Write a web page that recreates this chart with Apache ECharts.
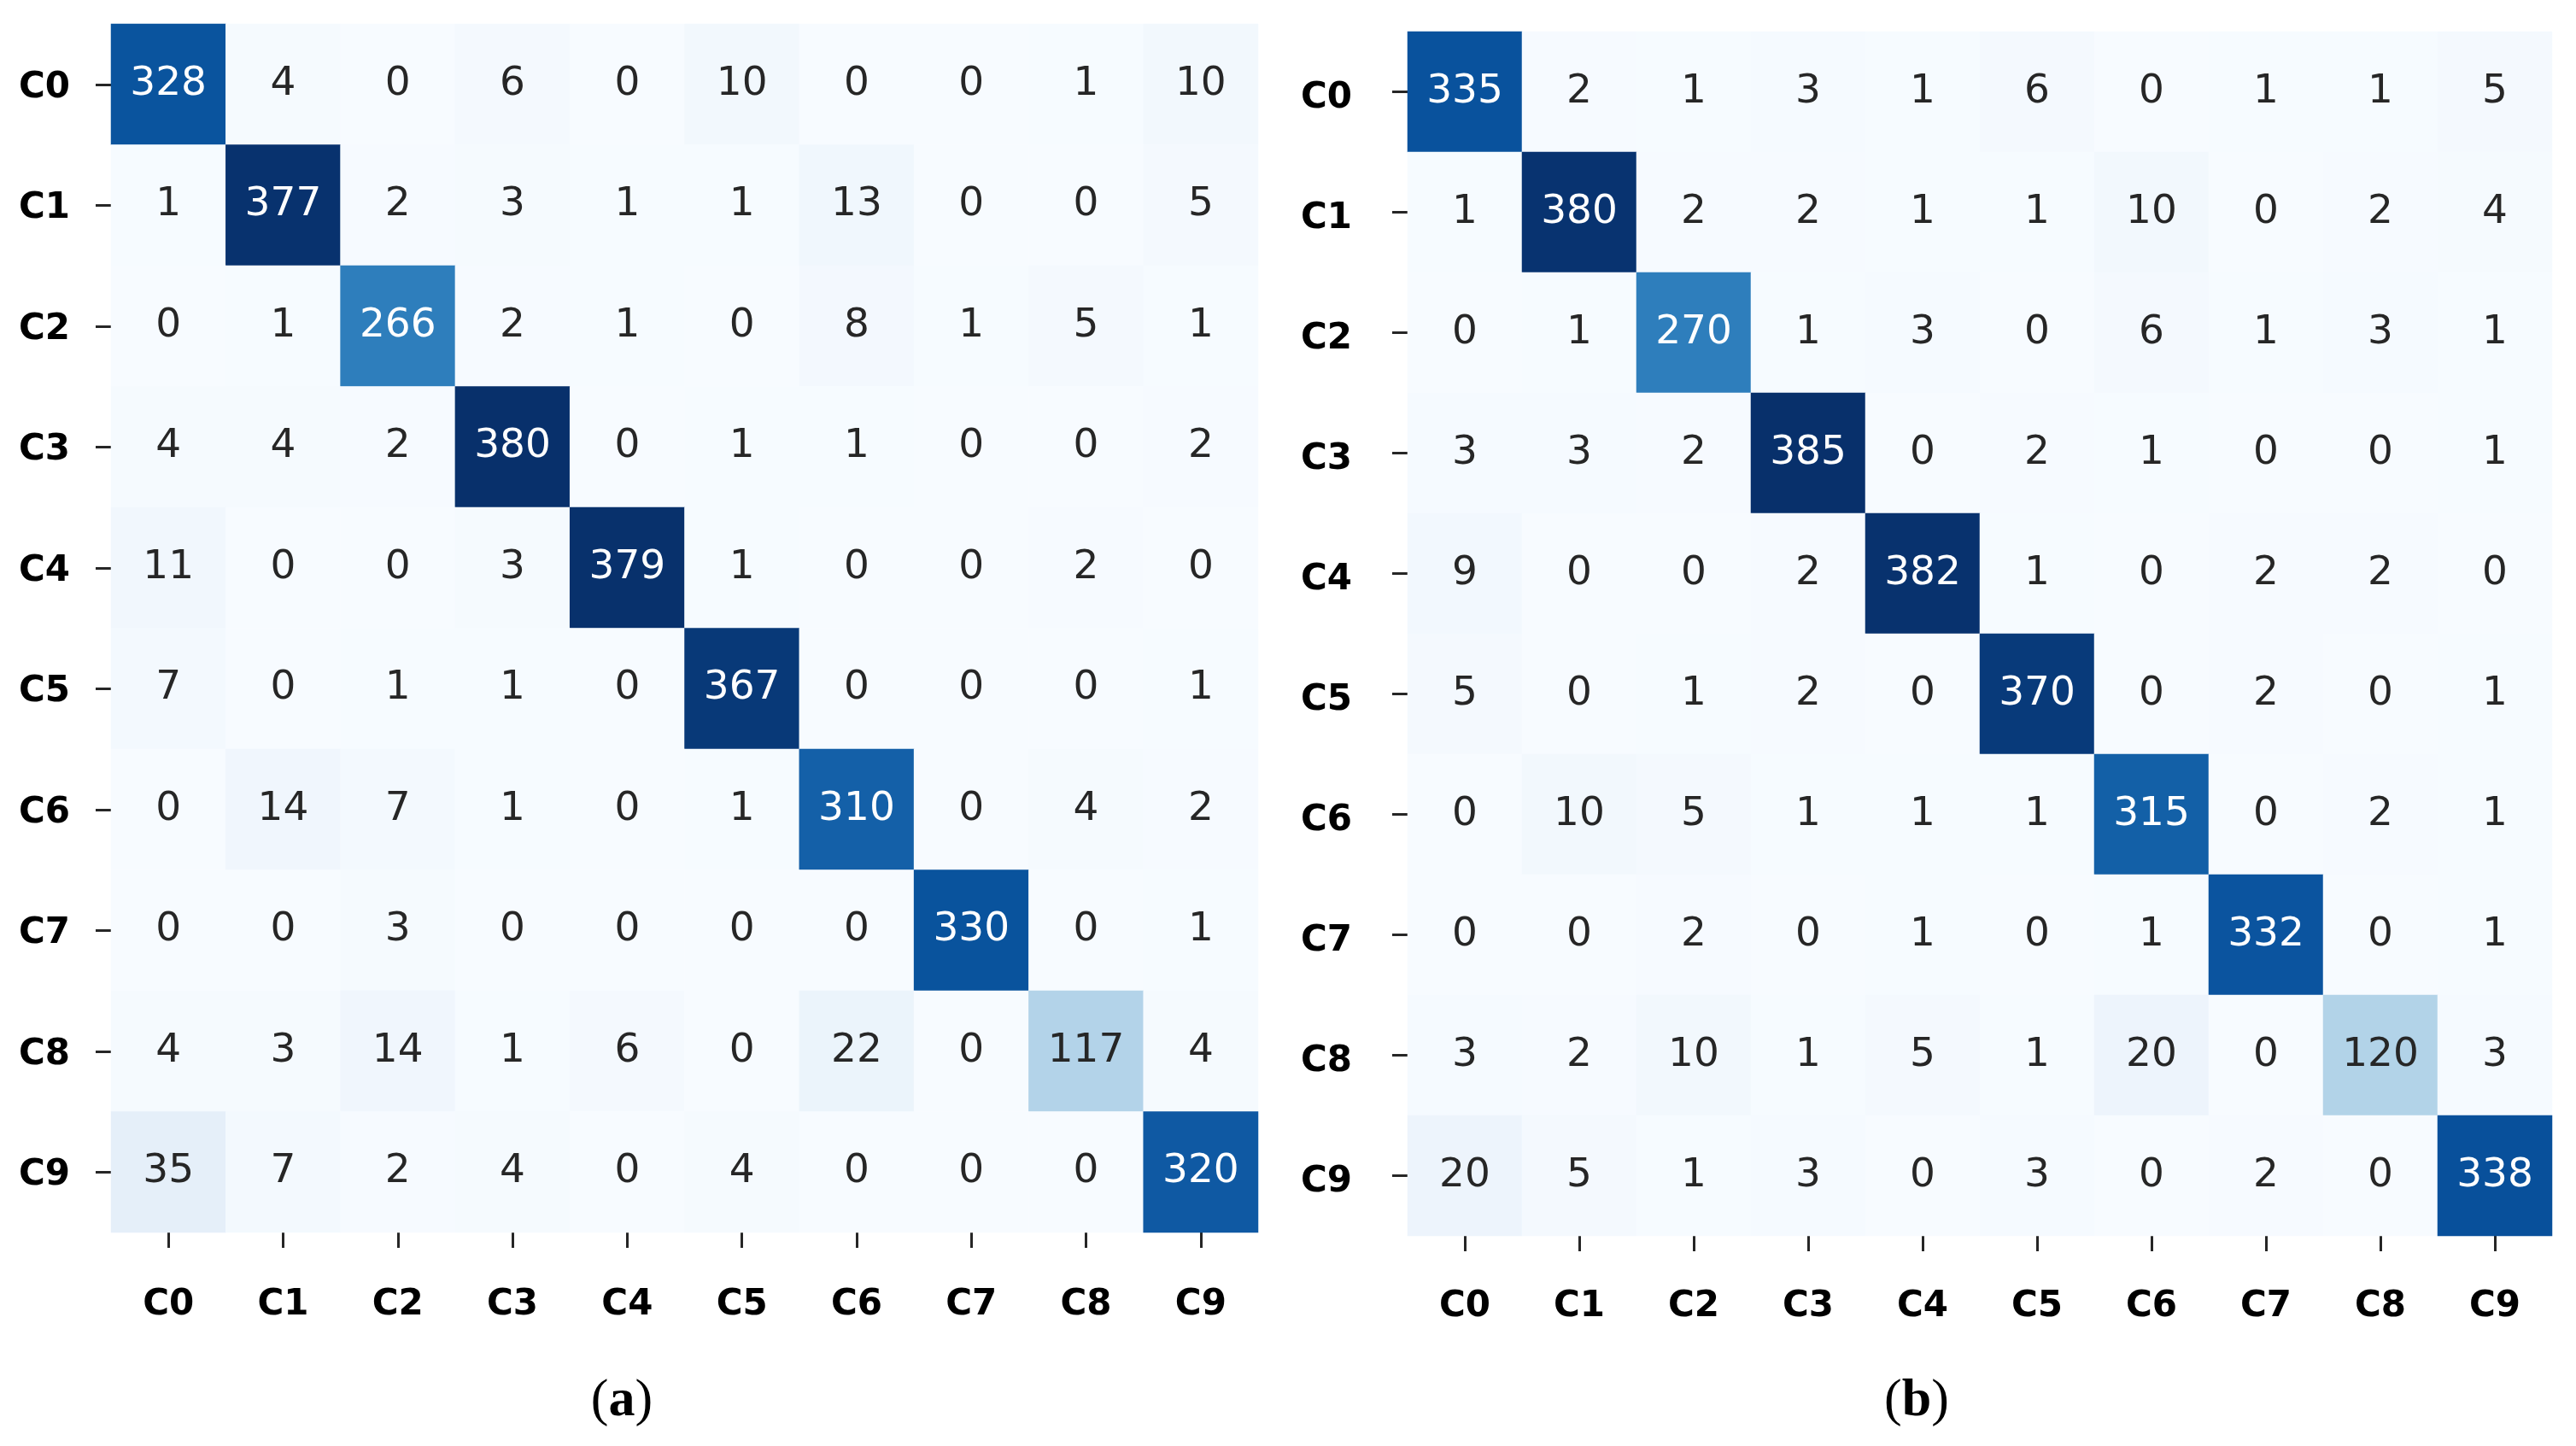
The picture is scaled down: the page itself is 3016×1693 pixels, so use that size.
<!DOCTYPE html>
<html>
<head>
<meta charset="utf-8">
<title>Confusion matrices</title>
<script src="https://cdn.jsdelivr.net/npm/echarts@6/dist/echarts.min.js"></script>
<style>
  html, body { margin: 0; padding: 0; background: #ffffff; }
  #chart { width: 3016px; height: 1693px; }
</style>
</head>
<body>
<div id="chart"></div>
<script>
// class labels (rows = true class, columns = predicted class)
const classes = ['C0', 'C1', 'C2', 'C3', 'C4', 'C5', 'C6', 'C7', 'C8', 'C9']

// (a) confusion matrix
const matrixA = [
  [328, 4, 0, 6, 0, 10, 0, 0, 1, 10],
  [1, 377, 2, 3, 1, 1, 13, 0, 0, 5],
  [0, 1, 266, 2, 1, 0, 8, 1, 5, 1],
  [4, 4, 2, 380, 0, 1, 1, 0, 0, 2],
  [11, 0, 0, 3, 379, 1, 0, 0, 2, 0],
  [7, 0, 1, 1, 0, 367, 0, 0, 0, 1],
  [0, 14, 7, 1, 0, 1, 310, 0, 4, 2],
  [0, 0, 3, 0, 0, 0, 0, 330, 0, 1],
  [4, 3, 14, 1, 6, 0, 22, 0, 117, 4],
  [35, 7, 2, 4, 0, 4, 0, 0, 0, 320]
]

// (b) confusion matrix
const matrixB = [
  [335, 2, 1, 3, 1, 6, 0, 1, 1, 5],
  [1, 380, 2, 2, 1, 1, 10, 0, 2, 4],
  [0, 1, 270, 1, 3, 0, 6, 1, 3, 1],
  [3, 3, 2, 385, 0, 2, 1, 0, 0, 1],
  [9, 0, 0, 2, 382, 1, 0, 2, 2, 0],
  [5, 0, 1, 2, 0, 370, 0, 2, 0, 1],
  [0, 10, 5, 1, 1, 1, 315, 0, 2, 1],
  [0, 0, 2, 0, 1, 0, 1, 332, 0, 1],
  [3, 2, 10, 1, 5, 1, 20, 0, 120, 3],
  [20, 5, 1, 3, 0, 3, 0, 2, 0, 338]
]

// matplotlib "Blues"
const blues = ['#f7fbff', '#deebf7', '#c6dbef', '#9ecae1', '#6baed6', '#4292c6', '#2171b5', '#08519c', '#08306b']

const toCells = (m) => {
  const max = Math.max(...m.flat())
  const cells = []
  m.forEach((row, i) => {
    row.forEach((v, j) => {
      cells.push({
        value: [j, i, v],
        label: {color: v > max * 0.5 ? '#ffffff' : '#262626'}
      })
    })
  })
  return cells
}

const maxA = Math.max(...matrixA.flat())
const maxB = Math.max(...matrixB.flat())

const font = 'DejaVu Sans'
const tickStyle = {show: true, alignWithLabel: true, length: 18, lineStyle: {color: '#262626', width: 3}}

const xAxisOf = (gridIndex, margin) => ({
  type: 'category',
  gridIndex,
  data: classes,
  axisLine: {show: false},
  axisTick: tickStyle,
  axisLabel: {margin, color: '#000000', fontFamily: font, fontWeight: 'bold', fontSize: 42},
  splitLine: {show: false},
  splitArea: {show: false}
})

// labels on the y side sit a little lower than the ticks in the original
const yAxisOf = (gridIndex, margin, drop) => ({
  type: 'category',
  gridIndex,
  inverse: true,
  data: classes,
  axisLine: {show: false},
  axisTick: tickStyle,
  axisLabel: {
    margin,
    formatter: '{t|{value}}',
    rich: {
      t: {color: '#000000', fontFamily: font, fontWeight: 'bold', fontSize: 42, padding: [drop * 2, 0, 0, 0]}
    }
  },
  splitLine: {show: false},
  splitArea: {show: false}
})

const heatSeries = (idx, m) => ({
  type: 'heatmap',
  xAxisIndex: idx,
  yAxisIndex: idx,
  data: toCells(m),
  label: {show: true, fontFamily: font, fontSize: 47},
  itemStyle: {borderWidth: 0},
  emphasis: {disabled: true}
})

const caption = (x, letter) => ({
  type: 'text',
  x,
  y: 1641,
  style: {
    text: '{p|(}{b|' + letter + '}{p|)}',
    align: 'center',
    verticalAlign: 'middle',
    rich: {
      p: {fontFamily: 'Liberation Serif', fontSize: 62, fill: '#000000'},
      b: {fontFamily: 'Liberation Serif', fontSize: 62, fontWeight: 'bold', fill: '#000000'}
    }
  }
})

const chart = echarts.init(document.getElementById('chart'), null, {renderer: 'canvas'})

chart.setOption({
  backgroundColor: '#ffffff',
  animation: false,
  grid: [
    {left: 130, top: 28, width: 1343, height: 1415},
    {left: 1648, top: 37, width: 1340, height: 1410}
  ],
  xAxis: [xAxisOf(0, 64), xAxisOf(1, 62)],
  yAxis: [yAxisOf(0, 48, 4), yAxisOf(1, 65, 8)],
  visualMap: [
    {show: false, seriesIndex: 0, dimension: 2, min: 0, max: maxA, inRange: {color: blues}},
    {show: false, seriesIndex: 1, dimension: 2, min: 0, max: maxB, inRange: {color: blues}}
  ],
  series: [heatSeries(0, matrixA), heatSeries(1, matrixB)],
  graphic: [caption(728, 'a'), caption(2244, 'b')]
})
</script>
</body>
</html>
